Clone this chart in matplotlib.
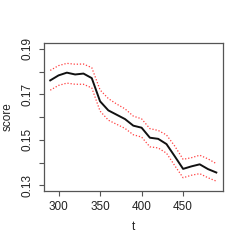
import matplotlib
matplotlib.use("Agg")
import matplotlib.pyplot as plt
import numpy as np

t = [290, 300, 310, 320, 330, 340, 350, 360, 370, 380, 390, 400,
     410, 420, 430, 440, 450, 460, 470, 480, 490]
score = [0.1761, 0.1783, 0.1795, 0.1787, 0.1791, 0.1771, 0.1669, 0.1629,
         0.1610, 0.1591, 0.1562, 0.1553, 0.1509, 0.1504, 0.1481, 0.1427,
         0.1372, 0.1383, 0.1392, 0.1371, 0.1356]
upper = [0.1805, 0.1826, 0.1836, 0.1832, 0.1833, 0.1817, 0.1719, 0.1681,
         0.1657, 0.1636, 0.1604, 0.1592, 0.1549, 0.1541, 0.1521, 0.1472,
         0.1414, 0.1421, 0.1432, 0.1416, 0.1395]
lower = [0.1718, 0.1739, 0.1749, 0.1744, 0.1744, 0.1728, 0.1626, 0.1586,
         0.1568, 0.1550, 0.1522, 0.1512, 0.1469, 0.1464, 0.1441, 0.1386,
         0.1333, 0.1344, 0.1351, 0.1333, 0.1318]
xticks = [300, 350, 400, 450]
yticks = [0.13, 0.14, 0.15, 0.16, 0.17, 0.18, 0.19]
ytick_labels = ["0.13", "", "0.15", "", "0.17", "", "0.19"]

plt.rcParams['font.family'] = ['Liberation Sans', 'DejaVu Sans']

fig = plt.figure(figsize=(2.45, 2.45), dpi=100)
ax = fig.add_axes([0.178, 0.2216, 0.732, 0.6016])

ax.plot(t, score, color='#111111', lw=1.4)
ax.plot(t, upper, color='#ff4040', lw=0.9, linestyle=(0, (1, 1.5)))
ax.plot(t, lower, color='#ff4040', lw=0.9, linestyle=(0, (1, 1.5)))

ax.set_xlim(282, 498)
ax.set_ylim(0.13 - 0.0024, 0.19 + 0.0024)
ax.set_xticks(xticks)
ax.set_xticklabels([str(v) for v in xticks])
ax.set_yticks(yticks)
ax.set_yticklabels(ytick_labels, rotation=90, va='center')

for s in ax.spines.values():
    s.set_color('#555555')
    s.set_linewidth(0.9)
ax.tick_params(axis='both', length=3.6, width=0.8, color='#555555',
               labelsize=8.5, labelcolor='#222222')
ax.tick_params(axis='x', pad=3.5)
ax.tick_params(axis='y', pad=3.5)

ax.set_xlabel('t', fontsize=8.5, color='#222222', va='center')
ax.xaxis.set_label_coords(0.5, -0.244)
ax.set_ylabel('score', fontsize=8.5, color='#222222', va='center')
ax.yaxis.set_label_coords(-0.202, 0.5)

fig.savefig('out.png', dpi=100)
